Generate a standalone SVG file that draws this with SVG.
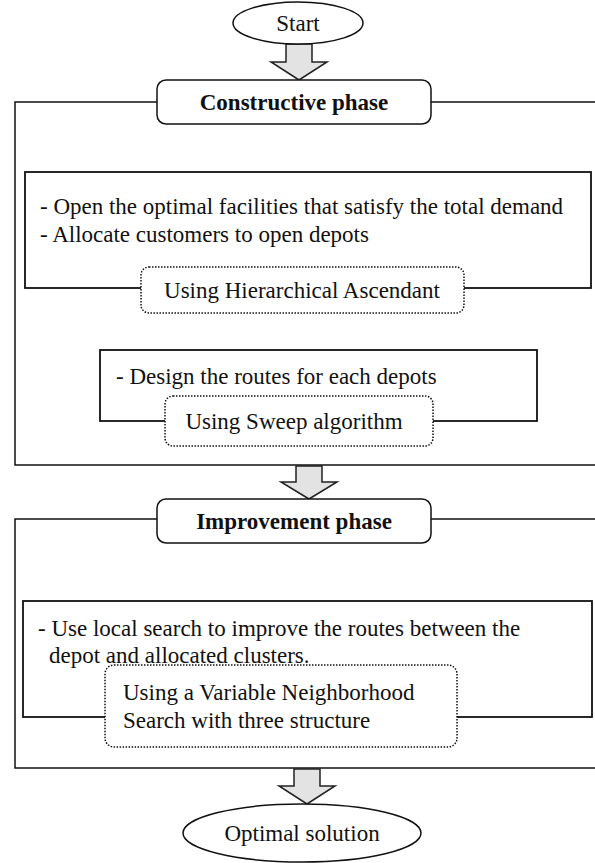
<svg xmlns="http://www.w3.org/2000/svg" width="595" height="863" viewBox="0 0 595 863">
<style>
.t{font-family:"Liberation Serif","Times New Roman",serif;font-size:23px;fill:#111}
.b{font-weight:bold}
.frame{fill:none;stroke:#111;stroke-width:1.5}
.box{fill:#fff;stroke:#111;stroke-width:1.8}
.dot{fill:#fff;stroke:#111;stroke-width:1.5;stroke-dasharray:1.5 1.5}
.node{fill:#fff;stroke:#111;stroke-width:1.5}
.arr{fill:#e3e3e3;stroke:#222;stroke-width:1.5;stroke-linejoin:miter}
</style>
<rect width="595" height="863" fill="#fff"/>
<g id="frames">
<rect class="frame" x="15" y="102" width="600" height="363"/>
<rect class="frame" x="15" y="519" width="600" height="249"/>
</g>
<g id="connectors">
<path class="arr" d="M286 44 L312 44 L312 62 L327 62 L299 80 L271 62 L286 62 Z"/>
<path class="arr" d="M296 466 L322 466 L322 482 L337 482 L309 499 L281 482 L296 482 Z"/>
<path class="arr" d="M294 769 L320 769 L320 786 L335 786 L307 804 L279 786 L294 786 Z"/>
</g>
<g id="start">
<ellipse class="node" cx="298" cy="23" rx="65" ry="21"/>
<text class="t" x="298" y="31" text-anchor="middle">Start</text>
</g>
<g id="constructive">
<rect class="node" x="157" y="80" width="274" height="44" rx="9"/>
<text class="t b" x="294" y="110" text-anchor="middle">Constructive phase</text>
</g>
<g id="alloc">
<rect class="box" x="25" y="172" width="566" height="116"/>
<text class="t" x="40" y="214">- Open the optimal facilities that satisfy the total demand</text>
<text class="t" x="40" y="242">- Allocate customers to open depots</text>
</g>
<g id="hier">
<rect class="dot" x="141" y="267" width="323" height="46" rx="8"/>
<text class="t" x="302" y="298" text-anchor="middle">Using Hierarchical Ascendant</text>
</g>
<g id="routes">
<rect class="box" x="100" y="350" width="437" height="71"/>
<text class="t" x="116" y="384">- Design the routes for each depots</text>
</g>
<g id="sweep">
<rect class="dot" x="165" y="396" width="268" height="50" rx="8"/>
<text class="t" x="294" y="429" text-anchor="middle">Using Sweep algorithm</text>
</g>
<g id="improvement">
<rect class="node" x="157" y="499" width="274" height="44" rx="9"/>
<text class="t b" x="294" y="529" text-anchor="middle">Improvement phase</text>
</g>
<g id="local">
<rect class="box" x="23" y="601" width="569" height="116"/>
<text class="t" x="38" y="636">- Use local search to improve the routes between the</text>
<text class="t" x="49" y="663">depot and allocated clusters.</text>
</g>
<g id="vns">
<rect class="dot" x="105" y="665" width="352" height="82" rx="9"/>
<text class="t" x="123" y="700">Using a Variable Neighborhood</text>
<text class="t" x="123" y="728">Search with three structure</text>
</g>
<g id="optimal">
<ellipse class="node" cx="302" cy="833" rx="119" ry="29"/>
<text class="t" x="302" y="841" text-anchor="middle">Optimal solution</text>
</g>
</svg>
